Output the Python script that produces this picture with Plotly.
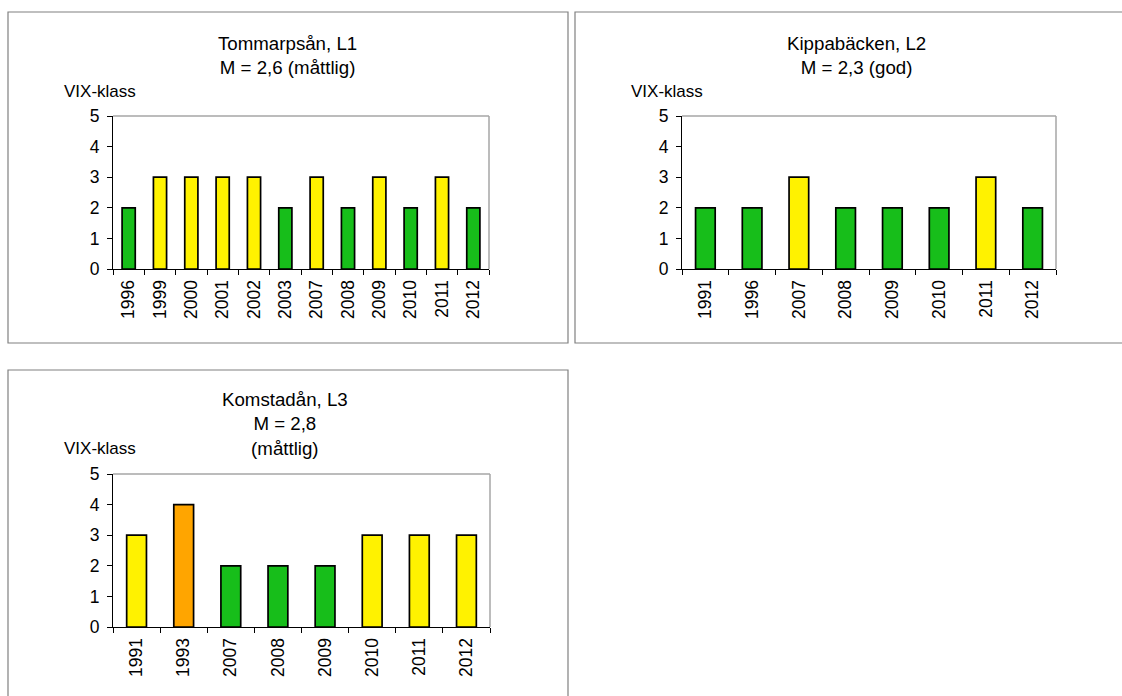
import plotly.graph_objects as go

W, H = 1122, 696

# Data
years_l1 = ["1996", "1999", "2000", "2001", "2002", "2003", "2007", "2008", "2009", "2010", "2011", "2012"]
vix_l1 = [2, 3, 3, 3, 3, 2, 3, 2, 3, 2, 3, 2]

years_l2 = ["1991", "1996", "2007", "2008", "2009", "2010", "2011", "2012"]
vix_l2 = [2, 2, 3, 2, 2, 2, 3, 2]

years_l3 = ["1991", "1993", "2007", "2008", "2009", "2010", "2011", "2012"]
vix_l3 = [3, 4, 2, 2, 2, 3, 3, 3]

titles = ["Tommarpsån, L1<br>M = 2,6 (måttlig)",
          "Kippabäcken, L2<br>M = 2,3 (god)",
          "Komstadån, L3<br>M = 2,8<br>(måttlig)"]
y_ticks = [0, 1, 2, 3, 4, 5]
y_label = "VIX-klass"

class_colors = {1: "#1E90FF", 2: "#17BE1A", 3: "#FFF200", 4: "#FFA500", 5: "#FF0000"}

FONT = "Liberation Sans, Arial, sans-serif"

def px_x(x):
    return x / W

def px_y(y):
    return 1 - y / H

panels = [
    dict(cats=years_l1, vals=vix_l1, x0=113, x1=489, ytop=116, ybot=269,
         box=(8, 12, 568, 343), title=titles[0], tx=287, ty=55, lx=62, ly=91),
    dict(cats=years_l2, vals=vix_l2, x0=682, x1=1056, ytop=116, ybot=269,
         box=(575, 12, 1135, 343), title=titles[1], tx=856, ty=55, lx=629, ly=91),
    dict(cats=years_l3, vals=vix_l3, x0=113, x1=490, ytop=474, ybot=627,
         box=(8, 370, 568, 710), title=titles[2], tx=285, ty=424, lx=62, ly=448),
]

fig = go.Figure()
shapes = []
annotations = []

for i, p in enumerate(panels):
    suffix = "" if i == 0 else str(i + 1)
    xa = "x" + suffix
    ya = "y" + suffix
    fig.add_trace(go.Bar(
        x=p["cats"], y=p["vals"], xaxis=xa, yaxis=ya,
        marker=dict(color=[class_colors[v] for v in p["vals"]],
                    line=dict(color="#000000", width=1.7)),
        showlegend=False, hoverinfo="x+y",
    ))
    fig.layout["xaxis" + suffix] = dict(
        domain=[px_x(p["x0"]), px_x(p["x1"])], anchor=ya, type="category",
        automargin=False,
        showline=True, linecolor="#000000", linewidth=1,
        ticks="outside", ticklen=5, tickcolor="#000000", tickson="boundaries",
        tickangle=-90, ticklabelstandoff=3,
        tickfont=dict(family=FONT, size=17.5, color="#000000"),
        showgrid=False, zeroline=False, fixedrange=True,
    )
    fig.layout["yaxis" + suffix] = dict(
        domain=[px_y(p["ybot"]), px_y(p["ytop"])], anchor=xa,
        automargin=False,
        range=[0, 5], tickvals=y_ticks,
        showline=True, linecolor="#000000", linewidth=1,
        ticks="outside", ticklen=5, tickcolor="#000000", ticklabelstandoff=4,
        tickfont=dict(family=FONT, size=17.5, color="#000000"),
        showgrid=False, zeroline=False, fixedrange=True,
    )
    # grey top and right plot-area border
    dom_x = "x" + suffix + " domain"
    dom_y = "y" + suffix + " domain"
    shapes.append(dict(type="line", xref=dom_x, yref=dom_y, x0=0, x1=1, y0=1, y1=1,
                       line=dict(color="#A6A6A6", width=1.5)))
    shapes.append(dict(type="line", xref=dom_x, yref=dom_y, x0=1, x1=1, y0=0, y1=1,
                       line=dict(color="#A6A6A6", width=1.5)))
    # chart frame
    bx0, by0, bx1, by1 = p["box"]
    shapes.append(dict(type="rect", xref="paper", yref="paper",
                       x0=px_x(bx0), x1=px_x(bx1), y0=px_y(by1), y1=px_y(by0),
                       line=dict(color="#808080", width=1.2), layer="below"))
    annotations.append(dict(text=p["title"], xref="paper", yref="paper",
                            x=px_x(p["tx"]), y=px_y(p["ty"]), xanchor="center", yanchor="middle",
                            showarrow=False, font=dict(family=FONT, size=18.7, color="#000000")))
    annotations.append(dict(text=y_label, xref="paper", yref="paper",
                            x=px_x(p["lx"]), y=px_y(p["ly"]), xanchor="left", yanchor="middle",
                            showarrow=False, font=dict(family=FONT, size=17, color="#000000")))

fig.update_layout(
    width=W, height=H, autosize=False,
    margin=dict(l=0, r=0, t=0, b=0, pad=0),
    paper_bgcolor="#FFFFFF", plot_bgcolor="#FFFFFF",
    bargap=0.58, shapes=shapes, annotations=annotations,
    font=dict(family=FONT),
)

fig.write_html("out.html", config={"displayModeBar": False},
               post_script="document.body.style.margin='0';document.body.style.overflow='hidden';")
